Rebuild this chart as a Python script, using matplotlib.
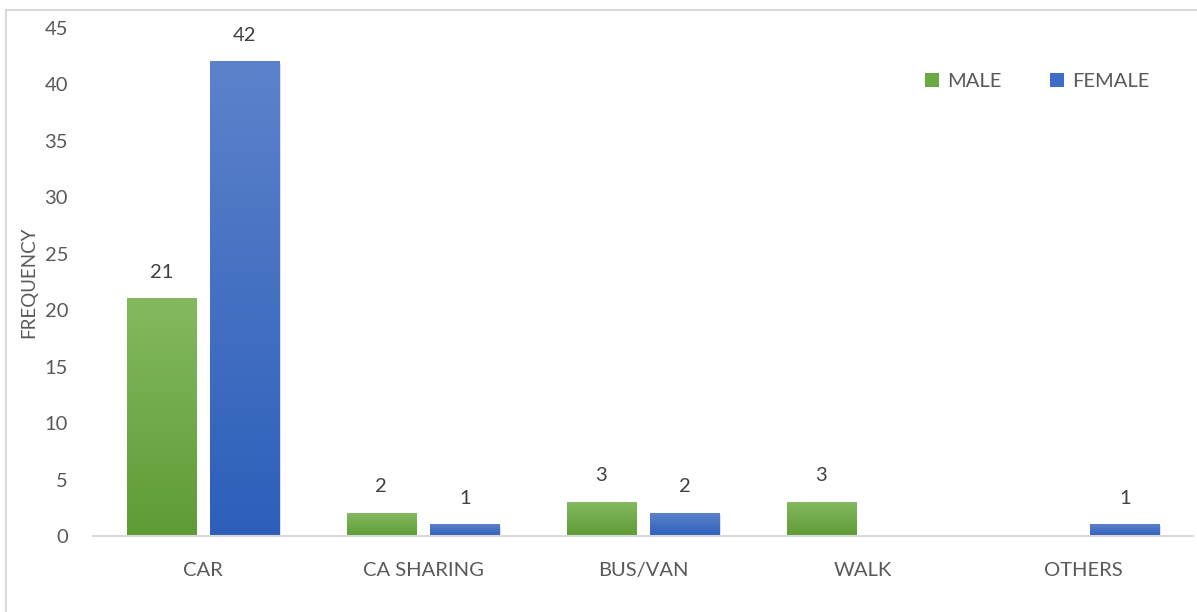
import numpy as np
import matplotlib
matplotlib.use("Agg")
import matplotlib.pyplot as plt
from matplotlib.colors import LinearSegmentedColormap
from matplotlib.lines import Line2D
from matplotlib.patches import Patch

categories = ["CAR", "CA SHARING", "BUS/VAN", "WALK", "OTHERS"]
male = [21, 2, 3, 3, 0]
female = [42, 1, 2, 0, 1]
series_names = ["MALE", "FEMALE"]
yticks = [0, 5, 10, 15, 20, 25, 30, 35, 40, 45]

plt.rcParams['font.family'] = ['Lato', 'DejaVu Sans']
txt_color = "#595959"

fig = plt.figure(figsize=(11.97, 6.12), dpi=100)
ax = fig.add_axes([0.0777, 0.1242, 0.9190, 0.8300])

x = np.arange(len(categories))
w = 0.314
off = 0.19

# light top, dark bottom
green_cm = LinearSegmentedColormap.from_list("g", ["#5e9b35", "#85b960"])
blue_cm = LinearSegmentedColormap.from_list("b", ["#2d5fba", "#5c82cb"])

grad = np.linspace(0, 1, 256).reshape(-1, 1)

def draw_bars(vals, xpos, cmap, base):
    bars = ax.bar(xpos, vals, w, color=base, zorder=2)
    for b, v in zip(bars, vals):
        if v == 0:
            continue
        x0, w0, h0 = b.get_x(), b.get_width(), b.get_height()
        # soft shadow
        ax.bar(x0 + w0 / 2 + 0.006, h0, w0, bottom=-0.15, color="#000000",
               alpha=0.12, zorder=1.5, linewidth=0)
        ax.imshow(grad, cmap=cmap, aspect="auto", origin="lower",
                  extent=(x0, x0 + w0, 0, h0), zorder=3)
        ax.text(x0 + w0 / 2, h0 + 1.6, str(v), ha="center", va="bottom",
                fontsize=14.5, color="#404040")
    return bars

draw_bars(male, x - off, green_cm, "#70ad47")
draw_bars(female, x + off, blue_cm, "#4472c4")

ax.set_xlim(-0.5, len(categories) - 0.5)
ax.set_ylim(0, 45)
ax.set_yticks(yticks)
ax.set_xticks(x)
ax.set_xticklabels(categories)
ax.tick_params(axis="both", length=0, labelsize=14.5, colors=txt_color)
ax.tick_params(axis="y", pad=18)
ax.tick_params(axis="x", pad=19)

for s in ["top", "right", "left"]:
    ax.spines[s].set_visible(False)
ax.spines["bottom"].set_color("#d9d9d9")
ax.spines["bottom"].set_linewidth(1.5)
ax.spines["bottom"].set_zorder(4)

ax.set_ylabel("FREQUENCY", fontsize=13.5, color=txt_color)
ax.yaxis.set_label_coords(-0.051, 0.5)

handles = [Patch(facecolor="#6aa843"), Patch(facecolor="#3f6cc4")]
leg = ax.legend(handles, series_names, loc="upper right", ncol=2, frameon=False,
                fontsize=14.5, handlelength=0.7, handleheight=0.7,
                handletextpad=0.4, columnspacing=2.4,
                bbox_to_anchor=(0.977, 0.947))
for t in leg.get_texts():
    t.set_color(txt_color)

# chart area border (top + left visible)
fig.add_artist(Line2D([6 / 1197, 1], [1 - 10 / 612, 1 - 10 / 612], color="#d9d9d9", lw=1.5))
fig.add_artist(Line2D([6 / 1197, 6 / 1197], [0, 1 - 10 / 612], color="#d9d9d9", lw=1.5))

fig.savefig("out.png", dpi=100)
